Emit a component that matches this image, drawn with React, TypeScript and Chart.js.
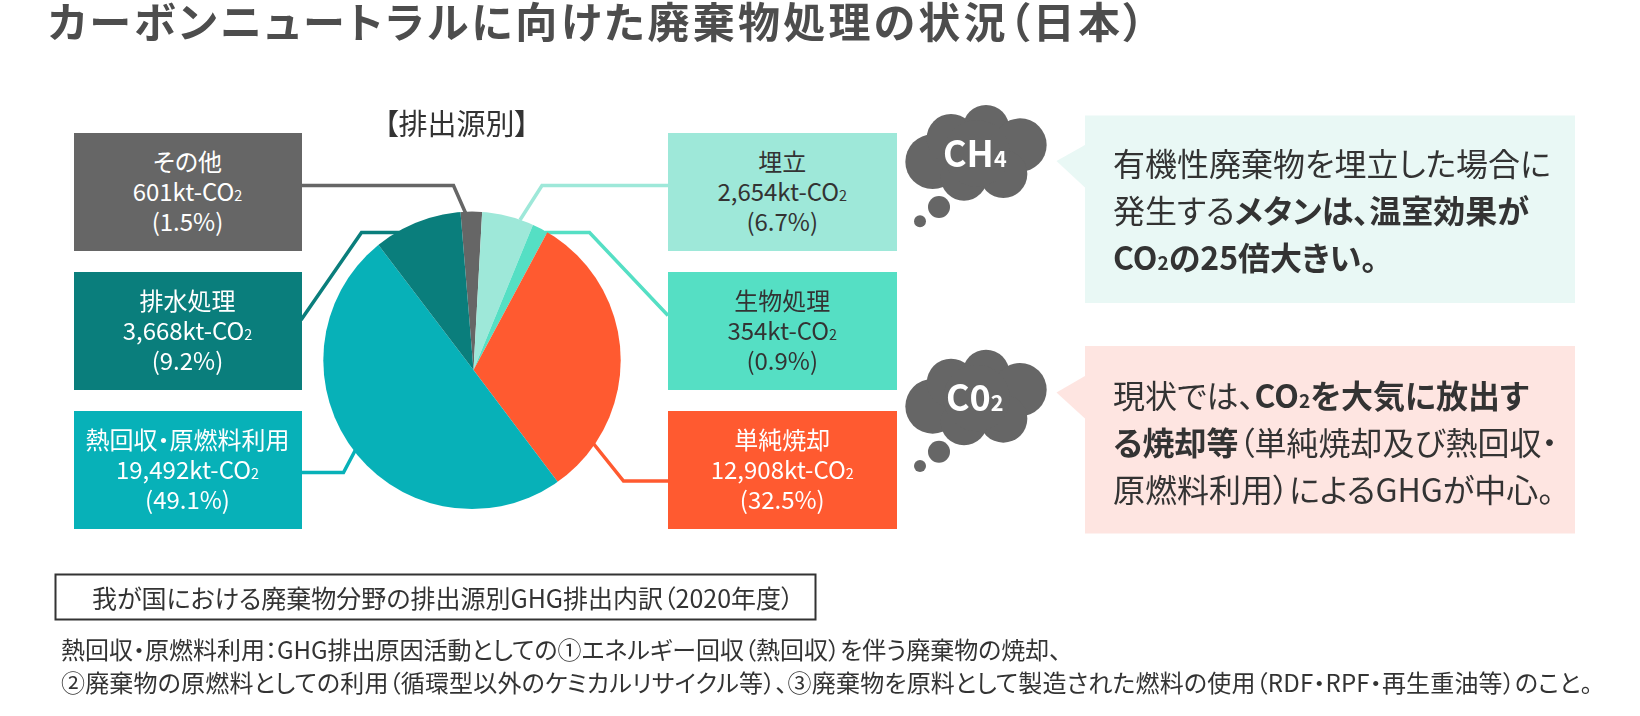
import React, { useEffect, useRef } from "react";
import { Chart, registerables } from "chart.js";

Chart.register(...registerables);

const categories = ["その他", "埋立", "生物処理", "単純焼却", "熱回収・原燃料利用", "排水処理"];
// Printed figures from the reference's labels.
const printedKt = ["601", "2,654", "354", "12,908", "19,492", "3,668"];
const printedPct = ["1.5", "6.7", "0.9", "32.5", "49.1", "9.2"];
// Slice sizes (%) as actually drawn in the reference, which differ slightly from the printed ones.
const drawnShares = [2.18, 5.32, 1.64, 31.9, 49.93, 9.03];
const sliceColors = ["#666666", "#9ee8d9", "#55dfc4", "#ff5a30", "#07b1b8", "#0a7e7c"];

const FONT = '"Noto Sans CJK JP", "Noto Sans", sans-serif';
const W = 1640;
const H = 716;

const boxes = [
  { i: 0, x: 73.5, y: 132.5, w: 228, h: 118, ink: "#fff" },
  { i: 5, x: 73.5, y: 272, w: 228, h: 118, ink: "#fff" },
  { i: 4, x: 73.5, y: 411, w: 228, h: 118, ink: "#fff" },
  { i: 1, x: 668, y: 132.5, w: 228.5, h: 118, ink: "#333" },
  { i: 2, x: 668, y: 272, w: 228.5, h: 118, ink: "#333" },
  { i: 3, x: 668, y: 411, w: 228.5, h: 118, ink: "#fff" },
];

const leaders = [
  { i: 0, pts: "301,185.5 453.5,185.5 466,214" },
  { i: 1, pts: "668,185.5 542,185.5 520,220" },
  { i: 2, pts: "545,232.5 589.5,232.5 668,315.5" },
  { i: 5, pts: "301,320 361.5,232.5 402,232.5" },
  { i: 4, pts: "301,472.5 343.5,472.5 357,447" },
  { i: 3, pts: "593,443 623.5,481 668,481" },
];

const lobes = [
  [128, 215, 82],
  [183, 145, 73],
  [288, 115, 70],
  [390, 165, 80],
  [340, 252, 72],
  [222, 262, 70],
  [260, 190, 100],
  [147, 351, 33],
  [90, 394, 18],
];

const Sub = ({ c, s = "60%" }: { c: string; s?: string }) => <span style={{ fontSize: s, lineHeight: 0 }}>{c}</span>;
const B = ({ children }: { children: React.ReactNode }) => <span style={{ fontWeight: 700 }}>{children}</span>;

const abs = (x: number, y: number, extra: React.CSSProperties = {}): React.CSSProperties => ({
  position: "absolute",
  left: x,
  top: y,
  whiteSpace: "nowrap",
  ...extra,
});

const Cloud = ({ dy }: { dy: number }) => (
  <g transform={`translate(890,${90 + dy}) scale(${1 / 3})`} fill="#666666">
    {lobes.map(([cx, cy, r], k) => (
      <circle key={k} cx={cx} cy={cy} r={r} />
    ))}
  </g>
);

export default function App() {
  const ref = useRef<HTMLCanvasElement>(null);
  useEffect(() => {
    const clipToDisc = {
      id: "clipToDisc",
      beforeDatasetsDraw(chart: any) {
        const c = chart.ctx;
        c.save();
        c.beginPath();
        c.arc(472, 360.3, 148.7, 0, Math.PI * 2);
        c.clip();
      },
      afterDatasetsDraw(chart: any) {
        chart.ctx.restore();
      },
    };
    const chart = new Chart(ref.current!, {
      type: "pie",
      data: {
        labels: categories,
        datasets: [{ data: drawnShares, backgroundColor: sliceColors, borderWidth: 0 }],
      },
      options: {
        animation: false,
        responsive: false,
        maintainAspectRatio: false,
        events: [],
        rotation: -4.71,
        layout: { padding: { left: 293, right: 986, top: 190, bottom: 166 } },
        plugins: { legend: { display: false }, tooltip: { enabled: false } },
      },
      plugins: [clipToDisc],
    });
    return () => chart.destroy();
  }, []);

  return (
    <div
      style={{
        position: "absolute",
        left: 0,
        top: 0,
        width: W,
        height: H,
        overflow: "hidden",
        background: "#fff",
        fontFamily: FONT,
        fontFeatureSettings: '"palt"',
        color: "#333",
      }}
    >
      <svg width={W} height={H} style={{ position: "absolute", left: 0, top: 0 }}>
        {leaders.map((l) => (
          <polyline key={l.i} points={l.pts} fill="none" stroke={sliceColors[l.i]} strokeWidth={3.5} />
        ))}
        <rect x={1085} y={115.5} width={490} height={187.5} fill="#e9f8f5" />
        <polygon points="1085,145 1056.5,161 1085,187.5" fill="#e9f8f5" />
        <rect x={1085} y={346} width={490} height={187.5} fill="#fee5e1" />
        <polygon points="1085,376 1056.5,392.5 1085,418.5" fill="#fee5e1" />
        <Cloud dy={0} />
        <Cloud dy={244.7} />
        <rect x={55.5} y={574.5} width={760} height={45} fill="none" stroke="#333" strokeWidth={2} />
      </svg>
      <canvas ref={ref} width={W} height={H} style={{ position: "absolute", left: 0, top: 0, width: W, height: H }} />

      <div style={abs(48, -5, { fontSize: 42, lineHeight: "50px", letterSpacing: 3.2, fontWeight: 700, color: "#4d4d4d" })}>
        カーボンニュートラルに向けた廃棄物処理の状況（日本）
      </div>
      <div style={abs(384, 104, { fontSize: 29, lineHeight: "36px" })}>【排出源別】</div>

      {boxes.map((b) => (
        <div
          key={b.i}
          style={abs(b.x, b.y, {
            width: b.w,
            height: b.h,
            boxSizing: "border-box",
            paddingBottom: 2,
            background: sliceColors[b.i],
            color: b.ink,
            fontSize: 24,
            lineHeight: "30px",
            textAlign: "center",
            display: "flex",
            flexDirection: "column",
            justifyContent: "center",
          })}
        >
          <div>{categories[b.i]}</div>
          <div>
            {printedKt[b.i]}kt-CO
            <Sub c="2" />
          </div>
          <div>({printedPct[b.i]}%)</div>
        </div>
      ))}

      <div style={abs(943, 126, { fontSize: 36, lineHeight: "50px", fontWeight: 700, color: "#fff" })}>
        CH
        <Sub c="4" />
      </div>
      <div style={abs(946, 370, { fontSize: 36, lineHeight: "50px", fontWeight: 700, color: "#fff" })}>
        C0
        <Sub c="2" />
      </div>

      <div style={abs(1113, 139, { fontSize: 32, lineHeight: "47px" })}>
        <div>有機性廃棄物を埋立した場合に</div>
        <div>
          発生する<B>メタンは、温室効果が</B>
        </div>
        <div>
          <B>
            CO
            <Sub c="2" />
            の25倍大きい。
          </B>
        </div>
      </div>
      <div style={abs(1113, 371, { fontSize: 32, lineHeight: "47px" })}>
        <div>
          現状では、
          <B>
            CO
            <Sub c="2" />
            を大気に放出す
          </B>
        </div>
        <div>
          <B>る焼却等</B>（単純焼却及び熱回収・
        </div>
        <div>原燃料利用）によるGHGが中心。</div>
      </div>

      <div style={abs(92, 579, { fontSize: 25, lineHeight: "36px" })}>我が国における廃棄物分野の排出源別GHG排出内訳（2020年度）</div>
      <div style={abs(61, 632, { fontSize: 24, lineHeight: "33px" })}>
        <div>熱回収・原燃料利用：GHG排出原因活動としての①エネルギー回収（熱回収）を伴う廃棄物の焼却、</div>
        <div style={{ letterSpacing: 0.18 }}>②廃棄物の原燃料としての利用（循環型以外のケミカルリサイクル等）、③廃棄物を原料として製造された燃料の使用（RDF・RPF・再生重油等）のこと。</div>
      </div>
    </div>
  );
}
